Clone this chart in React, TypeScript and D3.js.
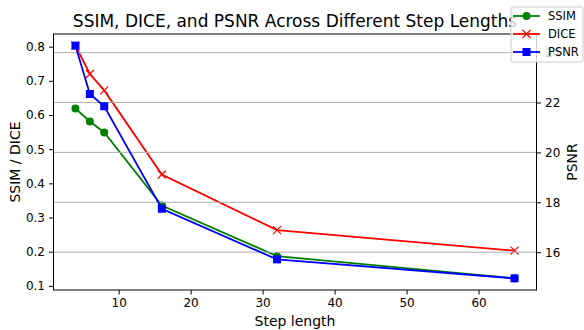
import React, { useRef, useEffect } from "react";
import * as d3 from "d3";

const steps = [4, 6, 8, 16, 32, 65];
const ssim = [0.619, 0.581, 0.549, 0.335, 0.187, 0.122];
const dice = [0.803, 0.72, 0.672, 0.426, 0.263, 0.203];
const psnr = [24.28, 22.34, 21.85, 17.74, 15.71, 14.95];

const xTicks = [10, 20, 30, 40, 50, 60];
const leftTicks = [0.1, 0.2, 0.3, 0.4, 0.5, 0.6, 0.7, 0.8];
const rightTicks = [16, 18, 20, 22, 24];

const width = 584;
const height = 330;
const margin = { top: 34, right: 47.5, bottom: 40, left: 53.5 };
const font = "DejaVu Sans, sans-serif";

// matplotlib style 5% padding
const pad = (vals: number[]) => {
  const [lo, hi] = d3.extent(vals) as [number, number];
  const m = (hi - lo) * 0.05;
  return [lo - m, hi + m];
};

const App = () => {
  const svgRef = useRef<SVGSVGElement>(null);

  useEffect(() => {
    document.body.style.margin = "0";
    const svg = d3.select(svgRef.current);
    svg.selectAll("*").remove();

    const x0 = margin.left;
    const x1 = width - margin.right;
    const y0 = height - margin.bottom;
    const y1 = margin.top;

    const xScale = d3.scaleLinear().domain(pad(steps)).range([x0, x1]);
    const yLeft = d3.scaleLinear().domain(pad([...ssim, ...dice])).range([y0, y1]);
    const yRight = d3.scaleLinear().domain(pad(psnr)).range([y0, y1]);

    const pts = (vals: number[], y: d3.ScaleLinear<number, number>) =>
      steps.map((s, i) => [xScale(s), y(vals[i])] as [number, number]);

    const drawLine = (vals: number[], y: d3.ScaleLinear<number, number>, color: string) => {
      svg.append("path")
        .attr("d", d3.line()(pts(vals, y)))
        .attr("fill", "none")
        .attr("stroke", color)
        .attr("stroke-width", 1.8);
    };

    const drawMarker = (g: any, cx: number, cy: number, kind: string, color: string) => {
      if (kind === "o") {
        g.append("circle").attr("cx", cx).attr("cy", cy).attr("r", 4).attr("fill", color);
      } else if (kind === "s") {
        g.append("rect").attr("x", cx - 4).attr("y", cy - 4).attr("width", 8).attr("height", 8).attr("fill", color);
      } else {
        g.append("path")
          .attr("d", `M${cx - 4},${cy - 4}L${cx + 4},${cy + 4}M${cx - 4},${cy + 4}L${cx + 4},${cy - 4}`)
          .attr("stroke", color).attr("stroke-width", 1.2);
      }
    };

    // ax1 lines
    drawLine(ssim, yLeft, "green");
    pts(ssim, yLeft).forEach(([cx, cy]) => drawMarker(svg, cx, cy, "o", "green"));
    drawLine(dice, yLeft, "red");
    pts(dice, yLeft).forEach(([cx, cy]) => drawMarker(svg, cx, cy, "x", "red"));

    // ax2 grid
    svg.append("g").selectAll("line").data(rightTicks).join("line")
      .attr("x1", x0).attr("x2", x1)
      .attr("y1", (d) => yRight(d)).attr("y2", (d) => yRight(d))
      .attr("stroke", "#b0b0b0").attr("stroke-width", 1);

    drawLine(psnr, yRight, "blue");
    pts(psnr, yRight).forEach(([cx, cy]) => drawMarker(svg, cx, cy, "s", "blue"));

    // frame
    svg.append("rect")
      .attr("x", x0).attr("y", y1).attr("width", x1 - x0).attr("height", y0 - y1)
      .attr("fill", "none").attr("stroke", "black").attr("stroke-width", 1);

    const styleAxis = (g: any) => {
      g.select(".domain").remove();
      g.selectAll("text").attr("font-family", font).attr("font-size", 12).attr("fill", "black");
      g.selectAll("line").attr("stroke", "black");
    };

    svg.append("g").attr("transform", `translate(0,${y0})`)
      .call(d3.axisBottom(xScale).tickValues(xTicks).tickSize(4.5).tickPadding(4).tickFormat(d3.format("d")))
      .call(styleAxis);
    svg.append("g").attr("transform", `translate(${x0},0)`)
      .call(d3.axisLeft(yLeft).tickValues(leftTicks).tickSize(4.5).tickPadding(4).tickFormat(d3.format(".1f")))
      .call(styleAxis);
    svg.append("g").attr("transform", `translate(${x1},0)`)
      .call(d3.axisRight(yRight).tickValues(rightTicks).tickSize(4.5).tickPadding(4).tickFormat(d3.format("d")))
      .call(styleAxis);

    // labels
    svg.append("text").attr("x", (x0 + x1) / 2).attr("y", 27).attr("text-anchor", "middle")
      .attr("font-family", font).attr("font-size", 17).text("SSIM, DICE, and PSNR Across Different Step Lengths");
    svg.append("text").attr("x", (x0 + x1) / 2).attr("y", 326).attr("text-anchor", "middle")
      .attr("font-family", font).attr("font-size", 14).text("Step length");
    svg.append("text").attr("transform", `translate(20,${(y0 + y1) / 2}) rotate(-90)`).attr("text-anchor", "middle")
      .attr("font-family", font).attr("font-size", 14).text("SSIM / DICE");
    svg.append("text").attr("transform", `translate(577,${(y0 + y1) / 2}) rotate(-90)`).attr("text-anchor", "middle")
      .attr("font-family", font).attr("font-size", 14).text("PSNR");

    // legend
    const legend = svg.append("g");
    legend.append("rect").attr("x", 511).attr("y", 7).attr("width", 72).attr("height", 55).attr("rx", 2)
      .attr("fill", "white").attr("fill-opacity", 0.8).attr("stroke", "#cccccc").attr("stroke-width", 1);
    const entries = [
      { name: "SSIM", color: "green", kind: "o" },
      { name: "DICE", color: "red", kind: "x" },
      { name: "PSNR", color: "blue", kind: "s" },
    ];
    entries.forEach((e, i) => {
      const ly = 16 + i * 18;
      legend.append("line").attr("x1", 513).attr("x2", 540).attr("y1", ly).attr("y2", ly)
        .attr("stroke", e.color).attr("stroke-width", 1.8);
      drawMarker(legend, 526.5, ly, e.kind, e.color);
      legend.append("text").attr("x", 548).attr("y", ly + 4.3).attr("font-family", font).attr("font-size", 11.5)
        .text(e.name);
    });
  }, []);

  return <svg ref={svgRef} width={width} height={height} style={{ display: "block" }} />;
};

export default App;
